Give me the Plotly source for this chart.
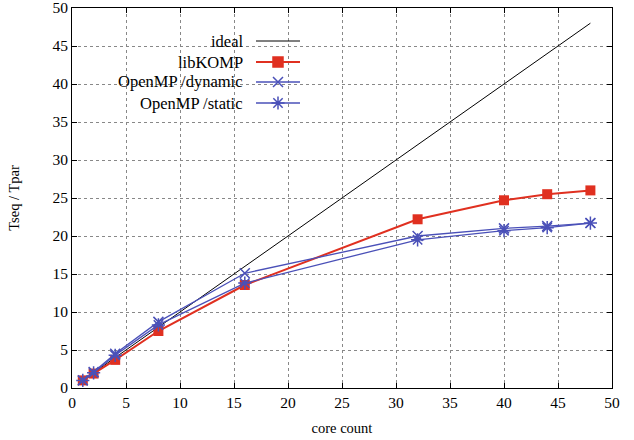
import plotly.graph_objects as go

cores = [1, 2, 4, 8, 16, 32, 40, 44, 48]
ideal_x = [1, 48]
ideal_y = [1, 48]
libkomp = [1.0, 1.9, 3.7, 7.5, 13.55, 22.2, 24.7, 25.5, 26.0]
omp_dynamic = [1.0, 2.1, 4.5, 8.7, 15.1, 20.0, 21.0, 21.3, 21.7]
omp_static = [1.0, 2.0, 4.3, 8.3, 13.8, 19.5, 20.7, 21.1, 21.7]
x_ticks = list(range(0, 51, 5))
y_ticks = list(range(0, 51, 5))

RED = "#e03020"
BLUE = "#4a50b8"
FONT = "Liberation Serif"

fig = go.Figure()
fig.add_trace(go.Scatter(x=ideal_x, y=ideal_y, mode="lines",
                         line=dict(color="black", width=1), showlegend=False))
fig.add_trace(go.Scatter(x=cores, y=libkomp, mode="lines+markers",
                         line=dict(color=RED, width=2),
                         marker=dict(symbol="square", size=10, color=RED), showlegend=False))
fig.add_trace(go.Scatter(x=cores, y=omp_dynamic, mode="lines+markers",
                         line=dict(color=BLUE, width=1.3),
                         marker=dict(symbol="x-thin-open", size=10, color=BLUE,
                                     line=dict(color=BLUE, width=1.5)), showlegend=False))
fig.add_trace(go.Scatter(x=cores, y=omp_static, mode="lines+markers",
                         line=dict(color=BLUE, width=1.3),
                         marker=dict(symbol="asterisk-open", size=11, color=BLUE,
                                     line=dict(color=BLUE, width=1.5)), showlegend=False))

# manual gnuplot-style legend (text right-aligned, sample to the right)
legend_labels = ["ideal", "libKOMP", "OpenMP /dynamic", "OpenMP /static"]
legend_colors = ["black", RED, BLUE, BLUE]
legend_widths = [1, 2, 1.3, 1.3]
legend_symbols = [None, "square", "x-thin-open", "asterisk-open"]
W, H = 634, 440
ml, mr, mt, mb = 72, 22, 8, 52
pw, ph = W - ml - mr, H - mt - mb
rows_px = [41, 62, 82, 103]

def px2paper(xp, yp):
    return (xp - ml) / pw, 1 - (yp - mt) / ph

for i, lab in enumerate(legend_labels):
    tx, ty = px2paper(245, rows_px[i])
    fig.add_annotation(x=tx, y=ty, xref="paper", yref="paper", text=lab,
                       showarrow=False, xanchor="right", yanchor="middle",
                       font=dict(family=FONT, size=16.5, color="black"))
    x0, yy = px2paper(256, rows_px[i])
    x1, _ = px2paper(300, rows_px[i])
    fig.add_shape(type="line", xref="paper", yref="paper", x0=x0, x1=x1, y0=yy, y1=yy,
                  line=dict(color=legend_colors[i], width=legend_widths[i]))
    if legend_symbols[i]:
        mx, my = px2paper(278, rows_px[i])
        fig.add_trace(go.Scatter(x=[mx], y=[my], xaxis="x2", yaxis="y2", mode="markers",
                                 marker=dict(symbol=legend_symbols[i], size=10 if i != 3 else 11,
                                             color=legend_colors[i],
                                             line=dict(color=legend_colors[i], width=1.5)),
                                 showlegend=False, hoverinfo="skip"))

axis_common = dict(showline=True, linecolor="black", linewidth=1, mirror="allticks",
                   ticks="inside", ticklen=5, tickcolor="black", automargin=False,
                   ticklabeloverflow="allow",
                   showgrid=True, gridcolor="#888888", griddash="dot", gridwidth=1,
                   zeroline=False, tickfont=dict(family=FONT, size=15.5, color="black"))

fig.update_layout(
    width=W, height=H,
    margin=dict(l=ml, r=mr, t=mt, b=mb, autoexpand=False),
    plot_bgcolor="white", paper_bgcolor="white",
    font=dict(family=FONT, color="black"),
    xaxis=dict(range=[0, 50], tickvals=x_ticks,
               title=dict(text="core count", font=dict(family=FONT, size=14.5), standoff=13),
               **axis_common),
    yaxis=dict(range=[0, 50], tickvals=y_ticks,
               title=dict(text="Tseq / Tpar", font=dict(family=FONT, size=14.5), standoff=29),
               **axis_common),
    xaxis2=dict(range=[0, 1], overlaying="x", visible=False, domain=[0, 1]),
    yaxis2=dict(range=[0, 1], overlaying="y", visible=False, domain=[0, 1]),
    showlegend=False,
)

fig.write_html("out.html", config={"displayModeBar": False},
               post_script="document.body.style.margin='0';")
